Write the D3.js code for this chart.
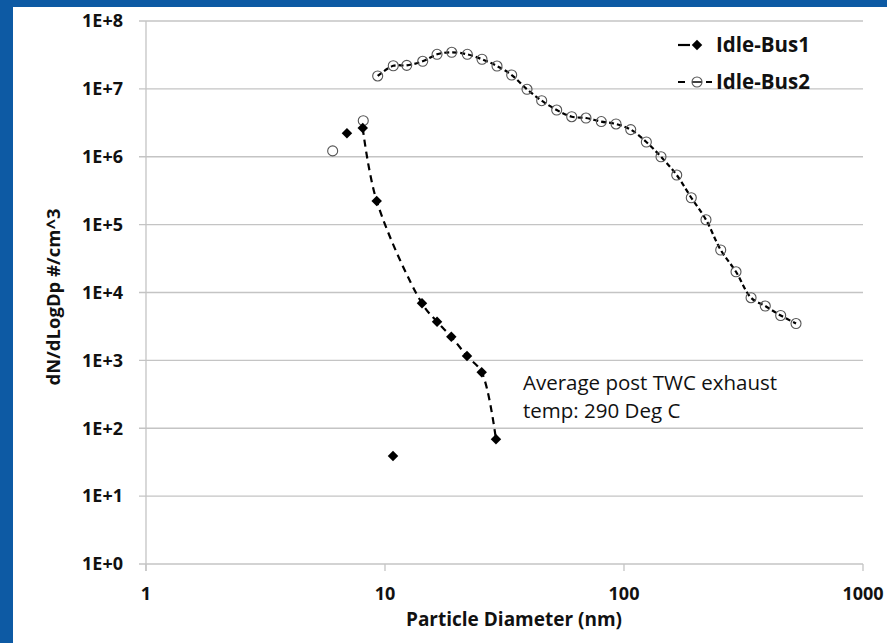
<!DOCTYPE html>
<html>
<head>
<meta charset="utf-8">
<script src="https://cdn.jsdelivr.net/npm/d3@7"></script>
<style>
  html, body { margin: 0; padding: 0; background: #0d5aa4; }
  svg { display: block; }
  text { font-family: "Open Sans", Lato, sans-serif; fill: #111; }
</style>
</head>
<body>
<svg id="chart" width="887" height="643"></svg>
<script>
// Idle-Bus1 (filled diamonds); joined = 1 when the point sits on the dashed line
const bus1Diam = [6.93, 8.07, 9.23, 10.8, 14.28, 16.51, 18.94, 22.03, 25.39, 29.13];
const bus1Conc = [2.22e6, 2.65e6, 2.23e5, 39, 6.93e3, 3.71e3, 2.23e3, 1.16e3, 667, 68.7];
const bus1Joined = [0, 1, 1, 0, 1, 1, 1, 1, 1, 1];

// Idle-Bus2 (open circles)
const bus2Diam = [6.04, 8.11, 9.32, 10.83, 12.33, 14.38, 16.51, 19.02, 22.10, 25.46, 29.42,
  33.89, 39.28, 45.25, 52.29, 60.42, 69.34, 80.36, 92.6, 106.7, 124.0, 142.8, 166.2,
  191.2, 220.3, 253.9, 294.2, 340.1, 390.1, 452.4, 524.5];
const bus2Conc = [1.22e6, 3.4e6, 1.55e7, 2.19e7, 2.22e7, 2.55e7, 3.23e7, 3.46e7, 3.23e7,
  2.73e7, 2.17e7, 1.60e7, 9.86e6, 6.70e6, 4.88e6, 3.89e6, 3.72e6, 3.3e6, 3.04e6, 2.51e6,
  1.65e6, 1.0e6, 5.38e5, 2.49e5, 1.18e5, 4.23e4, 2.02e4, 8.38e3, 6.32e3, 4.58e3, 3.49e3];
const bus2Joined = [0, 0, 1, 1, 1, 1, 1, 1, 1, 1, 1, 1, 1, 1, 1, 1, 1, 1, 1, 1, 1, 1, 1, 1,
  1, 1, 1, 1, 1, 1, 1];

const xTicks = [1, 10, 100, 1000];
const yTicks = [1e0, 1e1, 1e2, 1e3, 1e4, 1e5, 1e6, 1e7, 1e8];
const seriesNames = ["Idle-Bus1", "Idle-Bus2"];

const svg = d3.select("#chart");

// white slide panel inside the blue frame
svg.append("rect").attr("x", 13).attr("y", 7).attr("width", 874).attr("height", 636)
  .attr("fill", "#ffffff");

const x = d3.scaleLog().domain([1, 1000]).range([146, 863]);
const y = d3.scaleLog().domain([1, 1e8]).range([564, 21]);

// horizontal gridlines
svg.append("g")
  .selectAll("line")
  .data(yTicks)
  .enter()
  .append("line")
  .attr("x1", 139)
  .attr("x2", 863)
  .attr("y1", d => y(d))
  .attr("y2", d => y(d))
  .attr("stroke", "#c4c4c4")
  .attr("stroke-width", 1.3);

// y axis line
svg.append("line")
  .attr("x1", x(1)).attr("x2", x(1))
  .attr("y1", y(1e8)).attr("y2", y(1) + 7)
  .attr("stroke", "#c4c4c4").attr("stroke-width", 1.3);

// x axis ticks
svg.append("g")
  .selectAll("line")
  .data(xTicks)
  .enter()
  .append("line")
  .attr("x1", d => x(d)).attr("x2", d => x(d))
  .attr("y1", y(1)).attr("y2", y(1) + 7)
  .attr("stroke", "#c4c4c4").attr("stroke-width", 1.3);

// tick labels
svg.append("g")
  .selectAll("text")
  .data(yTicks)
  .enter()
  .append("text")
  .attr("x", 123)
  .attr("y", d => y(d))
  .attr("dy", "0.35em")
  .attr("text-anchor", "end")
  .attr("font-size", 18)
  .attr("font-weight", "bold")
  .text(d => "1E+" + Math.round(Math.log10(d)));

svg.append("g")
  .selectAll("text")
  .data(xTicks)
  .enter()
  .append("text")
  .attr("x", d => x(d))
  .attr("y", 594)
  .attr("dy", "0.35em")
  .attr("text-anchor", "middle")
  .attr("font-size", 18)
  .attr("font-weight", "bold")
  .text(d => d);

// axis titles
svg.append("text")
  .attr("x", 514).attr("y", 619).attr("dy", "0.35em")
  .attr("text-anchor", "middle")
  .attr("font-size", 19).attr("font-weight", "bold")
  .text("Particle Diameter (nm)");

svg.append("text")
  .attr("transform", "translate(54,297) rotate(-90)")
  .attr("dy", "0.35em")
  .attr("text-anchor", "middle")
  .attr("font-size", 18.5).attr("font-weight", "bold")
  .text("dN/dLogDp #/cm^3");

// build point lists
const bus1 = bus1Diam.map((d, i) => ({ x: d, y: bus1Conc[i], joined: bus1Joined[i] }));
const bus2 = bus2Diam.map((d, i) => ({ x: d, y: bus2Conc[i], joined: bus2Joined[i] }));

const line = d3.line()
  .x(d => x(d.x))
  .y(d => y(d.y))
  .curve(d3.curveCatmullRom.alpha(0.5));

// dashed lines
svg.append("path")
  .datum(bus2.filter(d => d.joined))
  .attr("d", line)
  .attr("fill", "none")
  .attr("stroke", "#000")
  .attr("stroke-width", 2.2)
  .attr("stroke-dasharray", "5,3");

svg.append("path")
  .datum(bus1.filter(d => d.joined))
  .attr("d", line)
  .attr("fill", "none")
  .attr("stroke", "#000")
  .attr("stroke-width", 2.2)
  .attr("stroke-dasharray", "7,5");

// markers
const diamond = d3.symbol().type(d3.symbolDiamond2).size(70);

svg.append("g")
  .selectAll("circle")
  .data(bus2)
  .enter()
  .append("circle")
  .attr("cx", d => x(d.x))
  .attr("cy", d => y(d.y))
  .attr("r", 5)
  .attr("fill", "none")
  .attr("stroke", "#555")
  .attr("stroke-width", 1.1);

svg.append("g")
  .selectAll("path")
  .data(bus1)
  .enter()
  .append("path")
  .attr("transform", d => `translate(${x(d.x)},${y(d.y)})`)
  .attr("d", diamond)
  .attr("fill", "#000");

// legend
const legend = svg.append("g");
legend.append("line").attr("x1", 678).attr("x2", 690).attr("y1", 45).attr("y2", 45)
  .attr("stroke", "#000").attr("stroke-width", 2.2);
legend.append("path").attr("transform", "translate(697,45)").attr("d", diamond).attr("fill", "#000");
legend.append("line").attr("x1", 678).attr("x2", 685).attr("y1", 82).attr("y2", 82)
  .attr("stroke", "#000").attr("stroke-width", 2);
legend.append("line").attr("x1", 692).attr("x2", 702).attr("y1", 82).attr("y2", 82)
  .attr("stroke", "#000").attr("stroke-width", 1.5);
legend.append("line").attr("x1", 706).attr("x2", 712).attr("y1", 82).attr("y2", 82)
  .attr("stroke", "#000").attr("stroke-width", 2);
legend.append("circle").attr("cx", 697).attr("cy", 82).attr("r", 5)
  .attr("fill", "none").attr("stroke", "#555").attr("stroke-width", 1.1);
legend.selectAll("text")
  .data(seriesNames)
  .enter()
  .append("text")
  .attr("x", 716)
  .attr("y", (d, i) => 45 + i * 37)
  .attr("dy", "0.35em")
  .attr("font-size", 20.5)
  .attr("font-weight", "bold")
  .text(d => d);

// annotation
const note = svg.append("text").attr("font-size", 20.5);
note.append("tspan").attr("x", 523).attr("y", 383).attr("dy", "0.35em").text("Average post TWC exhaust");
note.append("tspan").attr("x", 523).attr("y", 411).attr("dy", "0.35em").text("temp: 290 Deg C");
</script>
</body>
</html>
